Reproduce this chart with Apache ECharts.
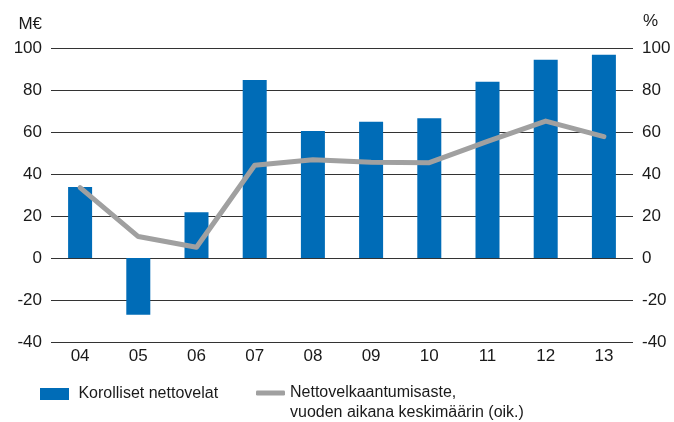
<!DOCTYPE html>
<html>
<head>
<meta charset="utf-8">
<script src="https://cdn.jsdelivr.net/npm/echarts@6/dist/echarts.min.js"></script>
<style>
  html, body { margin: 0; padding: 0; background: #fff; }
  #chart { width: 674px; height: 422px; }
</style>
</head>
<body>
<div id="chart"></div>
<script>
const years = ['04', '05', '06', '07', '08', '09', '10', '11', '12', '13'];
const netDebt = [33.8, -27, 21.8, 84.8, 60.5, 64.9, 66.6, 83.9, 94.4, 96.8];
const gearing = [33.5, 10.2, 5.1, 44.2, 46.8, 45.6, 45.4, 55.5, 65.2, 57.8];
const leftTicks = { min: -40, max: 100, interval: 20 };

const barName = 'Korolliset nettovelat';
const lineName = 'Nettovelkaantumisaste,\nvuoden aikana keskimäärin (oik.)';

const tickFont = { fontFamily: '"Liberation Sans", Arial, sans-serif', fontSize: 17, color: '#1a1a1a' };
const legendFont = { fontFamily: '"Liberation Sans Narrow", "Liberation Sans", sans-serif', fontSize: 16, color: '#1a1a1a' };

const chart = echarts.init(document.getElementById('chart'));

chart.setOption({
  animation: false,
  backgroundColor: '#fff',
  grid: { left: 51, right: 41, top: 48, bottom: 80 },
  legend: [
    {
      data: [barName],
      left: 40, top: 386,
      padding: 0,
      itemWidth: 29, itemHeight: 12,
      icon: 'rect',
      formatter: name => ' ' + name,
      textStyle: legendFont
    },
    {
      data: [{ name: lineName, icon: 'roundRect', itemStyle: { color: '#a0a0a0' } }],
      left: 256, top: 363,
      padding: 0,
      itemWidth: 29, itemHeight: 5,
      // empty first line keeps the icon level with the first text line
      formatter: name => ' \n' + name,
      textStyle: Object.assign({ lineHeight: 20 }, legendFont)
    }
  ],
  xAxis: {
    type: 'category',
    data: years,
    axisLine: { show: false },
    axisTick: { show: false },
    axisLabel: Object.assign({ margin: 6 }, tickFont)
  },
  yAxis: [
    {
      type: 'value',
      min: leftTicks.min, max: leftTicks.max, interval: leftTicks.interval,
      name: 'M€',
      nameLocation: 'end',
      nameGap: 15,
      nameTextStyle: Object.assign({ align: 'right', padding: [0, 9, 0, 0] }, tickFont),
      axisLine: { show: false },
      axisTick: { show: false },
      axisLabel: Object.assign({ margin: 9 }, tickFont),
      splitLine: { lineStyle: { color: '#333', width: 1 } }
    },
    {
      type: 'value',
      min: leftTicks.min, max: leftTicks.max, interval: leftTicks.interval,
      name: '%',
      nameLocation: 'end',
      nameGap: 18,
      nameTextStyle: Object.assign({ align: 'left', padding: [0, 0, 0, 10] }, tickFont),
      axisLine: { show: false },
      axisTick: { show: false },
      axisLabel: Object.assign({ margin: 9 }, tickFont),
      splitLine: { show: false }
    }
  ],
  series: [
    {
      name: barName,
      type: 'bar',
      data: netDebt,
      barWidth: 24,
      itemStyle: { color: '#006cb7' }
    },
    {
      name: lineName,
      type: 'line',
      yAxisIndex: 1,
      data: gearing,
      symbol: 'none',
      lineStyle: { color: '#a0a0a0', width: 5, cap: 'round', join: 'round' },
      itemStyle: { color: '#a0a0a0' }
    }
  ]
});
</script>
</body>
</html>
